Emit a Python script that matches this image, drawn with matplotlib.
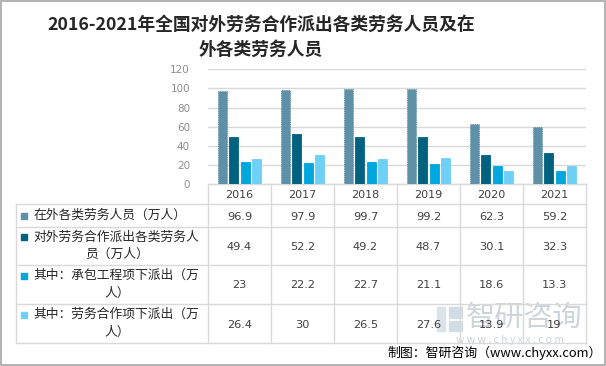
import matplotlib
matplotlib.use("Agg")
from matplotlib import pyplot as plt
from matplotlib.patches import Rectangle
import numpy as np

plt.rcParams['font.family'] = ['Noto Sans CJK SC', 'DejaVu Sans']

# data
years = ["2016", "2017", "2018", "2019", "2020", "2021"]
series_names = ["在外各类劳务人员（万人）",
                "对外劳务合作派出各类劳务人员（万人）",
                "其中：承包工程项下派出（万人）",
                "其中：劳务合作项下派出（万人）"]
abroad = [96.9, 97.9, 99.7, 99.2, 62.3, 59.2]
dispatched = [49.4, 52.2, 49.2, 48.7, 30.1, 32.3]
contract = [23, 22.2, 22.7, 21.1, 18.6, 13.3]
labour = [26.4, 30, 26.5, 27.6, 13.9, 19]
yticks = [0, 20, 40, 60, 80, 100, 120]

title_lines = ["2016-2021年全国对外劳务合作派出各类劳务人员及在", "外各类劳务人员"]
source = "制图：智研咨询（www.chyxx.com）"

colors = ["#5E90A8", "#00627F", "#00A6DE", "#6FD0F6"]
grid_c = "#D9D9D9"
num_font = ['DejaVu Sans']

W, H = 606, 366
fig = plt.figure(figsize=(W / 100, H / 100), dpi=100)

# overlay axes in pixel coordinates for title, table and frame
ov = fig.add_axes([0, 0, 1, 1])
ov.set_xlim(0, W)
ov.set_ylim(H, 0)
ov.axis('off')

# bar chart area
left, right, top, bottom = 208, 586, 69.3, 184
ax = fig.add_axes([left / W, (H - bottom) / H, (right - left) / W, (bottom - top) / H])
ax.set_xlim(0, len(years))
ax.set_ylim(0, 120)
ax.set_yticks(yticks)
ax.yaxis.grid(True, color=grid_c, linewidth=1)
ax.set_axisbelow(True)
for s in ax.spines.values():
    s.set_visible(False)
ax.tick_params(axis='y', length=0, pad=13, labelsize=7.5, labelcolor="#8C8C8C")
for t in ax.get_yticklabels():
    t.set_family(num_font)
ax.set_xticks([])
ax.patch.set_alpha(0)

x = np.arange(len(years)) + 0.5
step, bw = 0.18, 0.148
all_series = [abroad, dispatched, contract, labour]
for k, vals in enumerate(all_series):
    ec = "#4E7F96" if k == 0 else colors[k]
    ax.bar(x + (k - 1.5) * step, vals, width=bw, color=colors[k],
           edgecolor=ec, linewidth=0.6, linestyle=':' if k == 0 else '-')

# watermark
ov.text(524, 318, "智研咨询", fontsize=21, color="#CDD4DB", ha='center', va='center', zorder=0)
ov.text(510, 340, "w w w . c h y x x . c o m", fontsize=7.5, color="#CDD4DB",
        ha='center', va='center', zorder=0)
ov.add_patch(Rectangle((437, 307), 8, 24, color="#DCE3EA", zorder=0))
ov.add_patch(Rectangle((449, 307), 13, 11, color="#D2DCE6", zorder=0))
ov.add_patch(Rectangle((449, 321), 13, 10, color="#D2DCE6", zorder=0))

# table
col_w = (right - left) / len(years)
row_y = [bottom, 204, 227, 265, 304, 343]
lw = 1
ov.plot([left, right], [bottom, bottom], color=grid_c, lw=lw)
for ry in row_y[1:]:
    ov.plot([16, right], [ry, ry], color=grid_c, lw=lw)
for i in range(len(years) + 1):
    xc = left + i * col_w
    ov.plot([xc, xc], [bottom, row_y[-1]], color=grid_c, lw=lw)
ov.plot([16, 16], [row_y[1], row_y[-1]], color=grid_c, lw=lw)

for i, yr in enumerate(years):
    ov.text(left + (i + 0.5) * col_w, (row_y[0] + row_y[1]) / 2 + 1, yr,
            ha='center', va='center', fontsize=8, color="#404040", family=num_font)

for r, (name, vals) in enumerate(zip(series_names, all_series)):
    y0, y1 = row_y[r + 1], row_y[r + 2]
    mid = (y0 + y1) / 2
    lines = [name[j:j + 13] for j in range(0, len(name), 13)]
    n = len(lines)
    ys = [mid + (j - (n - 1) / 2) * 17.5 for j in range(n)]
    ov.add_patch(Rectangle((21, ys[0] - 3), 6, 6, color=colors[r]))
    for j, (ln, yy) in enumerate(zip(lines, ys)):
        if j == 0:
            ov.text(33, yy, ln, ha='left', va='center', fontsize=9.2, color="#262626")
        else:
            ov.text(117, yy, ln, ha='center', va='center', fontsize=9.2, color="#262626")
    for i, v in enumerate(vals):
        ov.text(left + (i + 0.5) * col_w, mid + 1, f"{v:g}", ha='center', va='center',
                fontsize=8.2, color="#404040", family=num_font)

# title
ov.text(261, 25, title_lines[0], ha='center', va='center', fontsize=12.8,
        fontweight='bold', color="#262626")
ov.text(261, 50, title_lines[1], ha='center', va='center', fontsize=12.8,
        fontweight='bold', color="#262626")

ov.text(602, 353, source, ha='right', va='center', fontsize=9.3, color="#000000")

# outer frame
ov.add_patch(Rectangle((0.5, 0.5), 604.5, 364, fill=False, edgecolor="#A6A6A6", lw=1.2))

fig.savefig("out.png", dpi=100)
